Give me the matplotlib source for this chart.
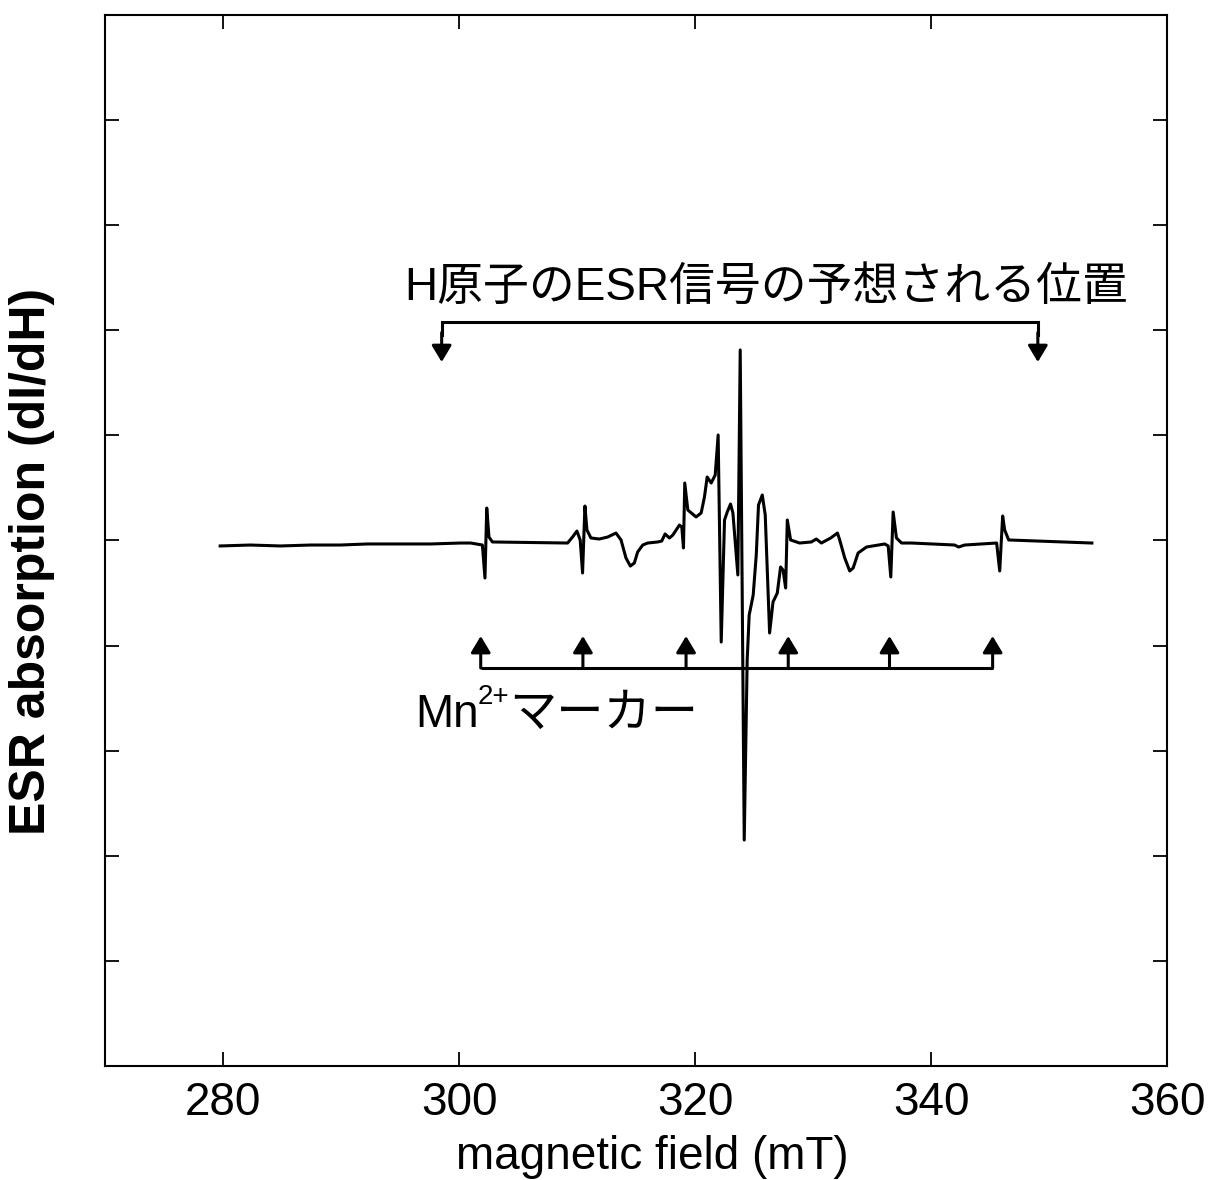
import matplotlib
matplotlib.use("Agg")
import matplotlib.pyplot as plt

# ESR first-derivative spectrum (magnetic field in mT, signal in arbitrary units)
field_mT = [
    279.76, 282.31, 284.86, 287.41, 289.95, 292.24, 295.05, 297.59, 300.14,
    300.99, 301.98, 302.20, 302.35, 302.54, 302.83, 309.20, 309.62, 309.99,
    310.27, 310.47, 310.67, 310.84, 311.18, 311.88, 312.60, 313.30, 313.73,
    314.15, 314.52, 314.86, 315.14, 315.57, 315.99, 316.84, 317.18, 317.46,
    317.83, 318.12, 318.68, 318.88, 319.02, 319.13, 319.39, 320.09, 320.52,
    320.80, 321.03, 321.37, 321.71, 321.96, 322.22, 322.50, 322.73, 323.01,
    323.21, 323.63, 323.83, 324.17, 324.42, 324.59, 324.93, 325.19, 325.38,
    325.70, 325.95, 326.32, 326.61, 326.97, 327.25, 327.46, 327.68, 327.82,
    328.10, 328.86, 329.86, 330.28, 330.71, 331.50, 332.07, 332.26, 332.69,
    333.11, 333.40, 333.82, 334.53, 336.08, 336.37, 336.59, 336.79, 337.07,
    337.50, 338.35, 342.00, 342.34, 342.85, 345.56, 345.82, 346.07, 346.24,
    346.58, 353.63,
]
signal = [
    -0.052, -0.043, -0.052, -0.043, -0.043, -0.033, -0.033, -0.033, -0.024,
    -0.024, -0.043, -0.357, 0.309, 0.033, -0.014, -0.024, 0.033, 0.090,
    0.005, -0.309, 0.328, 0.100, 0.024, 0.014, 0.033, 0.071, 0.005,
    -0.167, -0.243, -0.214, -0.109, -0.043, -0.024, -0.014, -0.005, 0.062,
    0.024, 0.052, 0.147, 0.128, -0.071, 0.547, 0.290, 0.224, 0.262,
    0.414, 0.604, 0.547, 0.623, 1.004, -0.966, 0.195, 0.271, 0.347,
    0.262, -0.328, 1.813, -2.850, -1.137, -0.709, -0.519, -0.138, 0.338,
    0.433, 0.243, -0.880, -0.585, -0.500, -0.252, -0.281, -0.452, 0.195,
    0.005, -0.024, -0.014, 0.014, -0.024, 0.024, 0.071, 0.005, -0.167,
    -0.290, -0.262, -0.119, -0.062, -0.033, -0.052, -0.347, 0.271, 0.024,
    -0.024, -0.024, -0.043, -0.062, -0.043, -0.024, -0.290, 0.233, 0.100,
    0.005, -0.024,
]

# Mn2+ reference marker positions (mT)
mn_marker_field = [301.84, 310.50, 319.24, 327.90, 336.48, 345.22]
mn_bar_level = -1.213
mn_tip_level = -0.909

# Expected H-atom ESR line positions (mT)
h_atom_field = [298.53, 349.05]
h_bar_level = 2.079
h_tip_level = 1.698

x_ticks = [280, 300, 320, 340, 360]
y_ticks = [-4, -3, -2, -1, 0, 1, 2, 3, 4]

plt.rcParams["font.family"] = ["Liberation Sans", "Noto Sans CJK JP", "DejaVu Sans"]

fig = plt.figure(figsize=(12.11, 11.80), dpi=100)
ax = fig.add_axes([0.0867, 0.0966, 0.9637 - 0.0867, 0.9873 - 0.0966])

ax.plot(field_mT, signal, color="black", lw=2.2, solid_joinstyle="round")

ax.set_xlim(270, 360)
ax.set_ylim(-5, 5)
ax.set_xticks(x_ticks)
ax.set_yticks(y_ticks)
ax.set_yticklabels([])
ax.tick_params(direction="in", top=True, right=True, length=10, width=1.3,
               labelsize=33, pad=11)
for s in ax.spines.values():
    s.set_linewidth(1.5)

ax.set_xlabel("magnetic field (mT)", fontsize=33)
ax.xaxis.set_label_coords(0.515, -0.066)
ax.set_ylabel("ESR absorption (dI/dH)", fontsize=36, fontweight="bold")
ax.yaxis.set_label_coords(-0.047, 0.48)

arrow_kw = dict(arrowstyle="-|>,head_length=0.5,head_width=0.3", lw=2.2,
                color="black", mutation_scale=20, shrinkA=0, shrinkB=0)

# Mn2+ marker comb
ax.plot([mn_marker_field[0], mn_marker_field[-1]], [mn_bar_level, mn_bar_level],
        color="black", lw=2.2, solid_capstyle="butt")
for xm in mn_marker_field:
    ax.annotate("", xy=(xm, mn_tip_level), xytext=(xm, mn_bar_level),
                arrowprops=arrow_kw)

# H-atom bracket
ax.plot([h_atom_field[0], h_atom_field[0], h_atom_field[1], h_atom_field[1]],
        [h_bar_level - 0.12, h_bar_level, h_bar_level, h_bar_level - 0.12],
        color="black", lw=2.2, solid_joinstyle="miter")
for xh in h_atom_field:
    ax.annotate("", xy=(xh, h_tip_level), xytext=(xh, h_bar_level - 0.1),
                arrowprops=arrow_kw)

ax.text(326.0, 2.40, "H原子のESR信号の予想される位置", fontsize=33,
        ha="center", va="center")

t1 = ax.text(296.32, -1.66, "Mn", fontsize=33, ha="left", va="center")
t2 = ax.annotate("2+", xy=(0.97, 0.62), xycoords=t1, fontsize=20,
                 ha="left", va="bottom")
ax.annotate("マーカー", xy=(1.0, 0.5), xycoords=(t2, t1), fontsize=34,
            ha="left", va="center")

fig.savefig("out.png", dpi=100)
